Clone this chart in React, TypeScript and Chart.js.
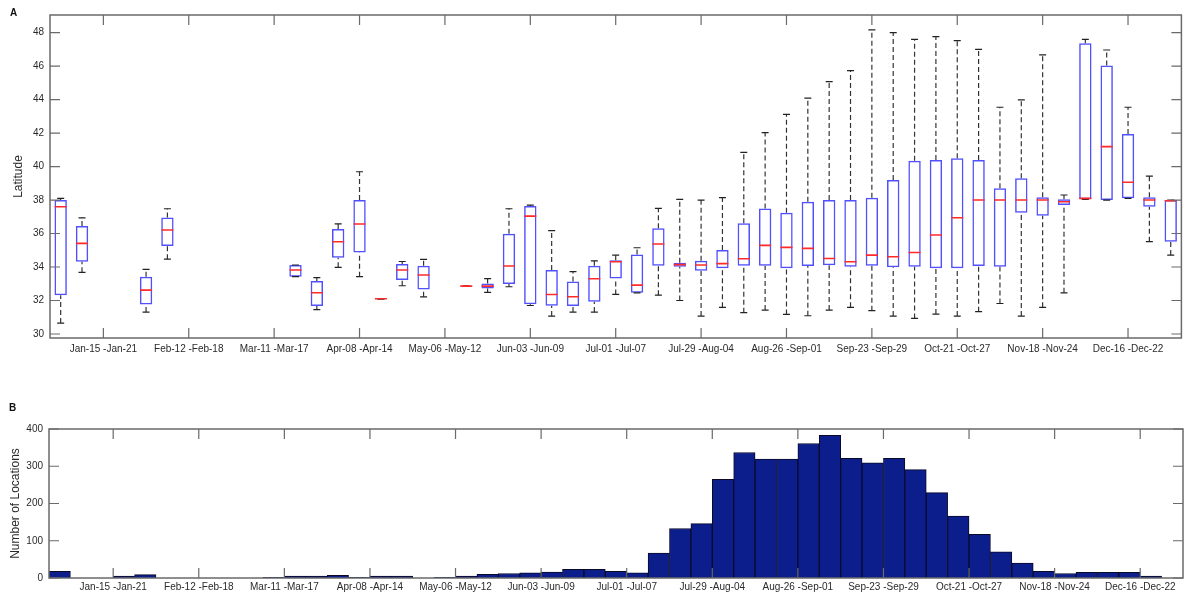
import React, { useEffect, useRef } from 'react';
import { Chart, registerables } from 'chart.js';
Chart.register(...registerables);

// Week indices (0 = Jan-01 -Jan-07 ... 52 = Dec-30)
const weeks = [0,1,2,3,4,5,6,7,8,9,10,11,12,13,14,15,16,17,18,19,20,21,22,23,24,25,26,27,28,29,30,31,32,33,34,35,36,37,38,39,40,41,42,43,44,45,46,47,48,49,50,51,52];

const tickLabels = ['Jan-15 -Jan-21','Feb-12 -Feb-18','Mar-11 -Mar-17','Apr-08 -Apr-14','May-06 -May-12','Jun-03 -Jun-09','Jul-01 -Jul-07','Jul-29 -Aug-04','Aug-26 -Sep-01','Sep-23 -Sep-29','Oct-21 -Oct-27','Nov-18 -Nov-24','Dec-16 -Dec-22'];
const tickWeeksA = [2,6,10,14,18,22,26,30,34,38,42,46,50];
const tickWeeksB = [2.5,6.5,10.5,14.5,18.5,22.5,26.5,30.5,34.5,38.5,42.5,46.5,50.5];
const latTicks = [30,32,34,36,38,40,42,44,46,48];
const countTicks = [0,100,200,300,400];

// Panel A: latitude box plot per week
const latLow = [30.65,33.68,null,null,31.31,34.47,null,null,null,null,null,33.42,31.46,33.98,33.42,32.1,32.88,32.22,null,32.86,32.48,32.82,31.7,31.07,31.31,31.31,32.36,32.46,32.32,32.0,31.07,31.59,31.27,31.43,31.17,31.09,31.43,31.59,31.39,31.07,30.93,31.19,31.07,31.33,31.82,31.07,31.59,32.46,38.04,38.0,38.1,35.51,34.71];
const latQ1 = [32.32,34.31,null,null,31.76,35.25,null,null,null,null,null,33.42,31.67,34.55,34.87,32.1,33.22,32.66,null,32.86,32.72,32.98,31.78,31.68,31.67,31.92,33.32,32.46,34.08,34.02,33.78,33.92,34.08,34.08,33.92,34.06,34.1,34.02,34.08,33.98,34.02,33.92,33.92,34.06,34.02,37.24,37.06,37.7,38.04,38.0,38.1,37.6,35.51];
const latMedian = [37.6,35.41,null,null,32.62,36.21,null,null,null,null,null,33.82,32.46,35.51,36.57,32.1,33.82,33.52,null,32.86,32.86,34.06,37.04,32.36,32.22,33.3,34.31,32.92,35.37,34.14,34.12,34.2,34.49,35.29,35.17,35.11,34.51,34.31,34.71,34.61,34.87,35.91,36.94,38.0,38.0,38.0,38.0,37.9,38.1,41.19,39.06,38.0,37.96];
const latQ3 = [38.0,36.45,null,null,33.42,36.96,null,null,null,null,null,34.12,33.16,36.27,38.0,32.1,34.18,34.08,null,32.86,33.02,35.99,37.64,33.82,33.14,34.08,34.41,34.75,36.31,34.25,34.37,35.01,36.61,37.5,37.24,37.9,38.0,38.0,38.14,39.2,40.35,40.39,40.49,40.39,38.7,39.3,38.16,38.04,47.36,46.03,41.94,38.16,38.0];
const latHigh = [38.1,36.94,null,null,33.86,37.48,null,null,null,null,null,34.12,33.36,36.57,39.69,32.1,34.33,34.45,null,32.86,33.3,37.48,37.7,36.17,33.72,34.37,34.71,35.15,37.5,38.04,38.0,38.14,40.85,42.02,43.12,44.08,45.07,45.73,48.16,48.0,47.6,47.76,47.52,47.0,43.54,43.98,46.67,38.3,47.6,46.96,43.54,39.43,38.0];

// Panel B: number of locations per week
const locationCounts = [18,0,0,5,9,0,0,0,0,0,2,5,5,7,2,5,5,0,2,5,10,12,14,16,23,23,18,14,67,133,146,265,337,319,319,361,383,321,309,321,291,229,166,117,70,40,18,12,15,15,15,5,0];

const FONT = "'Liberation Sans', Arial, sans-serif";
const TEXT = '#2a2a2a';

const framePlugin = {
  id: 'matlabFrame',
  afterDraw(chart: any) {
    const { ctx, chartArea, scales } = chart;
    const { left, right, top, bottom } = chartArea;
    const L = 10;
    ctx.save();
    ctx.strokeStyle = '#6a6a6a';
    ctx.lineWidth = 1.5;
    ctx.strokeRect(left, top, right - left, bottom - top);
    ctx.lineWidth = 1.2;
    ctx.beginPath();
    scales.x.ticks.forEach((t: any) => {
      const px = scales.x.getPixelForValue(t.value);
      ctx.moveTo(px, top); ctx.lineTo(px, top + L);
      ctx.moveTo(px, bottom); ctx.lineTo(px, bottom - L);
    });
    scales.y.ticks.forEach((t: any) => {
      const py = scales.y.getPixelForValue(t.value);
      ctx.moveTo(left, py); ctx.lineTo(left + L, py);
      ctx.moveTo(right, py); ctx.lineTo(right - L, py);
    });
    ctx.stroke();
    ctx.restore();
  },
};

function xScale(ticksAt: number[], height: number, pad: number) {
  return {
    type: 'linear',
    min: -0.5,
    max: 52.5,
    offset: false,
    afterBuildTicks: (s: any) => { s.ticks = ticksAt.map((v) => ({ value: v })); },
    afterFit: (s: any) => { s.height = height; },
    grid: { display: false, drawTicks: false, offset: false },
    border: { display: false },
    ticks: {
      autoSkip: false,
      maxRotation: 0,
      minRotation: 0,
      padding: pad,
      color: TEXT,
      font: { family: FONT, size: 10 },
      callback: (_v: any, i: number) => tickLabels[i],
    },
  };
}

function yScale(min: number, max: number, ticksAt: number[], width: number, title: string, titlePad: number) {
  return {
    type: 'linear',
    min,
    max,
    afterBuildTicks: (s: any) => { s.ticks = ticksAt.map((v) => ({ value: v })); },
    afterFit: (s: any) => { s.width = width; },
    grid: { display: false, drawTicks: false },
    border: { display: false },
    ticks: { padding: 6, color: TEXT, font: { family: FONT, size: 10 } },
    title: { display: true, text: title, color: TEXT, font: { family: FONT, size: 12 }, padding: { top: titlePad, bottom: 0 } },
  };
}

export default function App() {
  const refA = useRef<HTMLCanvasElement>(null);
  const refB = useRef<HTMLCanvasElement>(null);

  useEffect(() => {
    const present = weeks.filter((i) => latMedian[i] !== null);
    const boxes = present.map((i) => ({ x: i, y: [latQ1[i], latQ3[i]] }));
    const whiskers: any[] = [];
    present.forEach((i) => {
      whiskers.push({ x: i, y: latLow[i] }, { x: i, y: latQ1[i] }, { x: i, y: null });
      whiskers.push({ x: i, y: latQ3[i] }, { x: i, y: latHigh[i] }, { x: i, y: null });
    });
    const caps: any[] = [];
    present.forEach((i) => { caps.push({ x: i, y: latLow[i] }, { x: i, y: latHigh[i] }); });
    const medians = present.map((i) => ({ x: i, y: latMedian[i] }));

    const chartA = new Chart(refA.current as HTMLCanvasElement, {
      type: 'bar',
      data: {
        datasets: [
          {
            type: 'line',
            data: medians,
            showLine: false,
            pointStyle: 'line',
            pointRadius: 6,
            pointBorderColor: '#ff2a2a',
            pointBorderWidth: 1.6,
            order: 0,
          } as any,
          {
            type: 'line',
            data: caps,
            showLine: false,
            pointStyle: 'line',
            pointRadius: 3.5,
            pointBorderColor: '#222',
            pointBorderWidth: 1.2,
            order: 1,
          } as any,
          {
            type: 'line',
            data: whiskers,
            borderColor: '#333',
            borderWidth: 1.2,
            borderDash: [5, 3],
            pointRadius: 0,
            spanGaps: false,
            order: 2,
          } as any,
          {
            type: 'bar',
            data: boxes,
            backgroundColor: 'rgba(255,255,255,0)',
            borderColor: 'rgb(80,80,255)',
            borderWidth: 1.5,
            borderSkipped: false,
            barPercentage: 0.58,
            categoryPercentage: 1,
            grouped: false,
            order: 3,
          } as any,
        ],
      },
      options: {
        responsive: false,
        animation: false,
        events: [],
        layout: { padding: { left: 0, top: 15, right: 6, bottom: 0 } },
        plugins: { legend: { display: false }, tooltip: { enabled: false } },
        scales: {
          x: xScale(tickWeeksA, 32, 5),
          y: yScale(29.76, 49.05, latTicks, 50, 'Latitude', 11),
        } as any,
      },
      plugins: [framePlugin],
    });

    const chartB = new Chart(refB.current as HTMLCanvasElement, {
      type: 'bar',
      data: {
        datasets: [
          {
            data: weeks.map((i) => ({ x: i, y: locationCounts[i] })),
            backgroundColor: '#0c1e8c',
            borderColor: '#0a0a28',
            borderWidth: 1,
            barPercentage: 1,
            categoryPercentage: 1,
          } as any,
        ],
      },
      options: {
        responsive: false,
        animation: false,
        events: [],
        layout: { padding: { left: 0, top: 39, right: 6, bottom: 0 } },
        plugins: { legend: { display: false }, tooltip: { enabled: false } },
        scales: {
          x: xScale(tickWeeksB, 14, 3),
          y: yScale(0, 400, countTicks, 49, 'Number of Locations', 8),
        } as any,
      },
      plugins: [framePlugin],
    });

    return () => { chartA.destroy(); chartB.destroy(); };
  }, []);

  const panelLabel: React.CSSProperties = {
    position: 'absolute', fontFamily: FONT, fontWeight: 'bold', fontSize: 10, lineHeight: '10px', color: '#111',
  };

  return (
    <div style={{ position: 'absolute', left: 0, top: 0, width: 1189, height: 592, background: '#fff', overflow: 'hidden' }}>
      <canvas ref={refA} width={1189} height={370} style={{ position: 'absolute', left: 0, top: 0, width: 1189, height: 370 }} />
      <canvas ref={refB} width={1189} height={202} style={{ position: 'absolute', left: 0, top: 390, width: 1189, height: 202 }} />
      <div style={{ ...panelLabel, left: 10, top: 8 }}>A</div>
      <div style={{ ...panelLabel, left: 9, top: 403 }}>B</div>
    </div>
  );
}
